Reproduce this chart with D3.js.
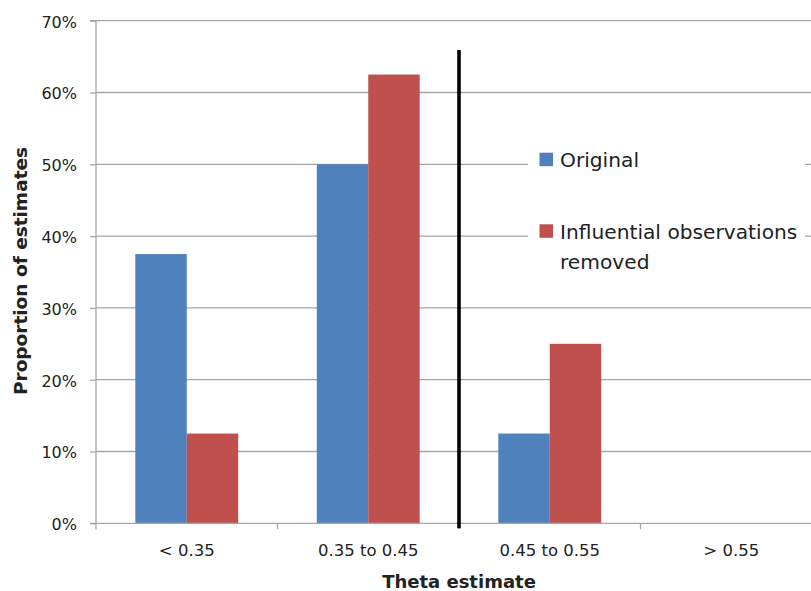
<!DOCTYPE html>
<html>
<head>
<meta charset="utf-8">
<script src="https://cdn.jsdelivr.net/npm/d3@7/dist/d3.min.js"></script>
<style>
  html, body { margin: 0; padding: 0; background: #fff; }
  svg { display: block; }
  text { font-family: "DejaVu Sans", sans-serif; fill: #222; }
</style>
</head>
<body>
<svg id="chart" width="811" height="591"></svg>
<script>
const categories = ["< 0.35", "0.35 to 0.45", "0.45 to 0.55", "> 0.55"];
const seriesNames = ["Original", "Influential observations removed"];
const original = [0.375, 0.50, 0.125, 0];
const removed = [0.125, 0.625, 0.25, 0];
const yTicks = [0, 0.1, 0.2, 0.3, 0.4, 0.5, 0.6, 0.7];
const colors = ["#4F81BD", "#C0504D"];
const thresholdBetween = [1, 2]; // line drawn between categories index 1 and 2

const svg = d3.select("#chart");
const W = 811, H = 591;
const x0 = 96, x1 = 822;
const yTop = 20.7, yBottom = 523.3;

const x = d3.scaleBand().domain(categories).range([x0, x1]).paddingInner(0).paddingOuter(0);
const xs = d3.scaleBand().domain(seriesNames).range([0, x.bandwidth()]).paddingOuter(0.764).paddingInner(0);
const y = d3.scaleLinear().domain([0, 0.7]).range([yBottom, yTop]);

const gridColor = "#a6a6a6";

// gridlines
svg.append("g").selectAll("line").data(yTicks.filter(d => d > 0)).join("line")
  .attr("x1", x0).attr("x2", W)
  .attr("y1", d => y(d)).attr("y2", d => y(d))
  .attr("stroke", gridColor).attr("stroke-width", 1.3);

// bars
const data = categories.map((c, i) => ({ cat: c, vals: [original[i], removed[i]] }));
const groups = svg.append("g").selectAll("g").data(data).join("g")
  .attr("transform", d => `translate(${x(d.cat)},0)`);
groups.selectAll("rect").data(d => d.vals.map((v, j) => ({ v, s: seriesNames[j], j })))
  .join("rect")
  .attr("x", d => xs(d.s))
  .attr("width", xs.bandwidth())
  .attr("y", d => y(d.v))
  .attr("height", d => yBottom - y(d.v))
  .attr("fill", d => colors[d.j]);

// y axis
const yAxis = d3.axisLeft(y).tickValues(yTicks).tickFormat(d3.format(".0%")).tickSize(6).tickPadding(13);
const gy = svg.append("g").attr("transform", `translate(${x0},0)`).call(yAxis);
gy.select(".domain").attr("stroke", gridColor).attr("stroke-width", 1.3).attr("d", `M-6,${yTop}H0V${yBottom}H-6`);
gy.selectAll(".tick line").attr("stroke", gridColor).attr("stroke-width", 1.3);
gy.selectAll(".tick text").attr("font-size", 16).attr("font-family", "DejaVu Sans").attr("fill", "#222").attr("dy", "0.4em");

// x axis
const gx = svg.append("g").attr("transform", `translate(0,${yBottom})`);
gx.append("line").attr("x1", x0).attr("x2", W).attr("y1", 0).attr("y2", 0)
  .attr("stroke", gridColor).attr("stroke-width", 1.3);
const boundaries = categories.map(c => x(c)).concat([x(categories[categories.length - 1]) + x.bandwidth()]);
gx.selectAll("line.tk").data(boundaries.filter(b => b <= W)).join("line").attr("class", "tk")
  .attr("x1", d => d).attr("x2", d => d).attr("y1", 0).attr("y2", 6)
  .attr("stroke", gridColor).attr("stroke-width", 1.3);
gx.selectAll("text").data(categories).join("text")
  .attr("x", d => x(d) + x.bandwidth() / 2)
  .attr("y", 33)
  .attr("text-anchor", "middle")
  .attr("font-size", 16.5)
  .text(d => d);

// threshold line
const tx = x(categories[thresholdBetween[1]]);
svg.append("line").attr("x1", tx).attr("x2", tx).attr("y1", 50).attr("y2", yBottom + 5)
  .attr("stroke", "#000").attr("stroke-width", 3.6);

// legend
const lg = svg.append("g");
lg.append("rect").attr("x", 528).attr("y", 118).attr("width", 277).attr("height", 168).attr("fill", "#fff");
const legendItems = [
  { name: ["Original"], color: colors[0], y: 159.7 },
  { name: ["Influential observations", "removed"], color: colors[1], y: 231.3 }
];
legendItems.forEach(it => {
  lg.append("rect").attr("x", 539.5).attr("y", it.y - 7).attr("width", 13.5).attr("height", 13.5).attr("fill", it.color);
  const t = lg.append("text").attr("x", 560).attr("y", it.y + 7.5).attr("font-size", 20.2);
  it.name.forEach((s, k) => {
    t.append("tspan").attr("x", 560).attr("dy", k === 0 ? 0 : 30).text(s);
  });
});

// axis titles
svg.append("text").attr("x", 459).attr("y", 588).attr("text-anchor", "middle")
  .attr("font-size", 18).attr("font-weight", "bold").attr("fill", "#111").text("Theta estimate");
svg.append("text").attr("transform", "translate(27,271) rotate(-90)").attr("text-anchor", "middle")
  .attr("font-size", 18.5).attr("font-weight", "bold").attr("fill", "#111").text("Proportion of estimates");
</script>
</body>
</html>
